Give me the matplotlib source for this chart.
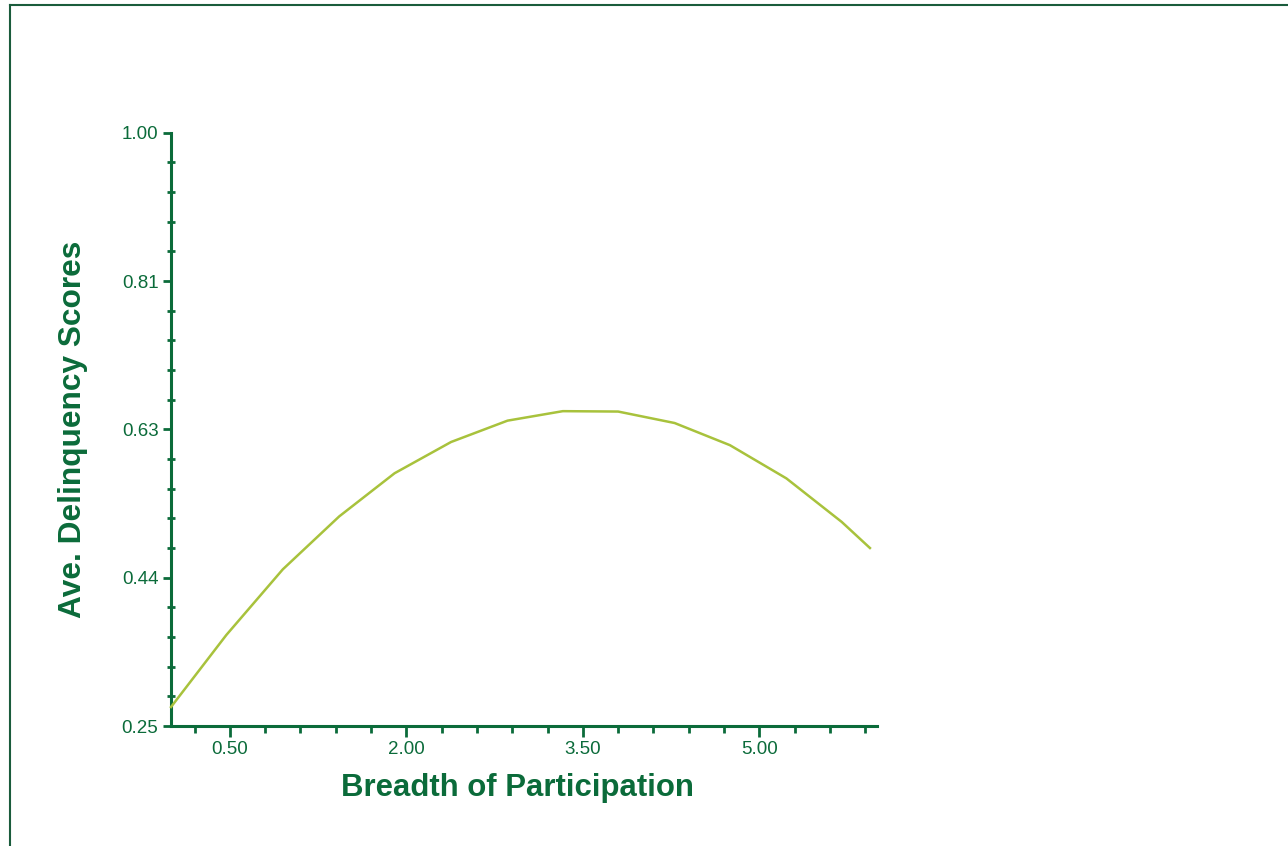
import math
import matplotlib
matplotlib.use("Agg")
import matplotlib.pyplot as plt
from matplotlib.ticker import FixedLocator, FuncFormatter
from matplotlib.lines import Line2D

plt.rcParams['font.family'] = ['Liberation Sans', 'DejaVu Sans']

# Data
participation = [0.0, 0.47, 0.95, 1.43, 1.90, 2.38, 2.86, 3.33, 3.80, 4.28, 4.75, 5.23, 5.70, 5.94]
delinquency = [0.274, 0.365, 0.448, 0.515, 0.5695, 0.609, 0.636, 0.648, 0.6475, 0.633, 0.605, 0.563, 0.508, 0.475]

x_major = [0.5, 2.0, 3.5, 5.0]
x_minor = [0.2 + 0.3 * k for k in range(20)]
y_major = [0.25, 0.4375, 0.625, 0.8125, 1.0]
y_minor = [0.25 + 0.0375 * k for k in range(21)]

AXIS_COLOR = '#0b6b3a'
LINE_COLOR = '#a8c23c'


def fmt2(v, pos=None):
    return '%.2f' % (math.floor(float(v) * 100 + 0.5 + 1e-9) / 100)


fig = plt.figure(figsize=(12.88, 8.46), dpi=100)
ax = fig.add_axes([171/1288, 1-726/846, (877-171)/1288, (726-132.7)/846])

ax.plot(participation, delinquency, color=LINE_COLOR, lw=1.8, clip_on=False, zorder=3)

ax.set_xlim(0, 6)
ax.set_ylim(0.25, 1.0)

for s in ['top', 'right']:
    ax.spines[s].set_visible(False)
for s in ['left', 'bottom']:
    ax.spines[s].set_color(AXIS_COLOR)
    ax.spines[s].set_linewidth(2.2)

ax.xaxis.set_major_locator(FixedLocator(x_major))
ax.xaxis.set_minor_locator(FixedLocator([v for v in x_minor if v < 6.0]))
ax.yaxis.set_major_locator(FixedLocator(y_major))
ax.yaxis.set_minor_locator(FixedLocator(y_minor))
ax.xaxis.set_major_formatter(FuncFormatter(fmt2))
ax.yaxis.set_major_formatter(FuncFormatter(fmt2))

ax.tick_params(axis='x', which='major', direction='out', length=8, width=2, color=AXIS_COLOR,
               labelcolor=AXIS_COLOR, labelsize=13.5, pad=3)
ax.tick_params(axis='x', which='minor', direction='out', length=5, width=2, color=AXIS_COLOR)
ax.tick_params(axis='y', which='major', direction='out', length=6, width=2, color=AXIS_COLOR,
               labelcolor=AXIS_COLOR, labelsize=13.5, pad=3)
ax.tick_params(axis='y', which='minor', direction='inout', length=6, width=2, color=AXIS_COLOR)

ax.set_xlabel('Breadth of Participation', fontsize=22.4, fontweight='bold', color=AXIS_COLOR)
ax.set_ylabel('Ave. Delinquency Scores', fontsize=22.8, fontweight='bold', color=AXIS_COLOR)
ax.xaxis.set_label_coords((517-171)/(877-171), -(788-726)/(726-132.7))
ax.yaxis.set_label_coords(-(171-73)/(877-171), 0.5)
ax.xaxis.label.set_va('center')
ax.yaxis.label.set_va('center')

# Frame around the figure (top and left edges visible)
fig.add_artist(Line2D([9.5/1288, 9.5/1288], [0, 1-5.5/846], transform=fig.transFigure,
                      color='#1a5c3c', lw=1.5))
fig.add_artist(Line2D([9.5/1288, 1], [1-5.5/846, 1-5.5/846], transform=fig.transFigure,
                      color='#1a5c3c', lw=1.5))

fig.savefig('out.png', dpi=100, facecolor='white')
